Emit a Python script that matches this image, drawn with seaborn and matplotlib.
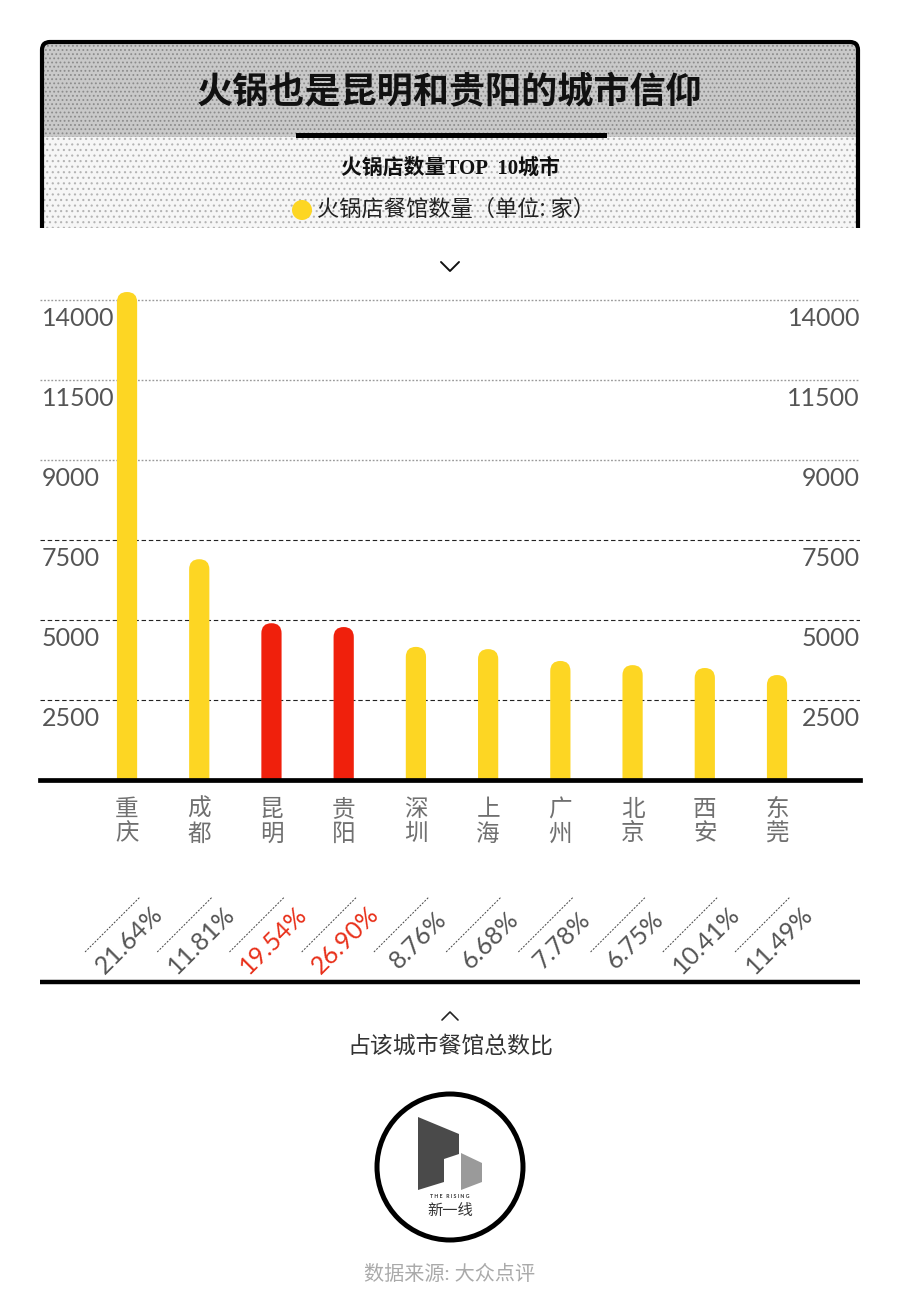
import numpy as np
import pandas as pd
import matplotlib
matplotlib.use('Agg')
import matplotlib.pyplot as plt
import seaborn as sns
from matplotlib.patches import FancyBboxPatch, Rectangle, Circle, Polygon
from matplotlib.transforms import blended_transform_factory, offset_copy

# ---------------- data ----------------
cities = ['重庆', '成都', '昆明', '贵阳', '深圳', '上海', '广州', '北京', '西安', '东莞']
counts = [14250, 6900, 4900, 4780, 4160, 4090, 3720, 3590, 3500, 3280]
shares = ['21.64%', '11.81%', '19.54%', '26.90%', '8.76%', '6.68%', '7.78%', '6.75%', '10.41%', '11.49%']
highlight = ['昆明', '贵阳']
tick_values = [2500, 5000, 7500, 9000, 11500, 14000]

title = '火锅也是昆明和贵阳的城市信仰'
subtitle = '火锅店数量TOP  10城市'
legend_label = '火锅店餐馆数量（单位: 家）'
share_caption = '占该城市餐馆总数比'
logo_en = 'T H E   R I S I N G'
logo_cn = '新一线'
source = '数据来源: 大众点评'

YELLOW = '#FDD623'
RED = '#F0200C'
RED_TEXT = '#E8301A'
GRAY_TEXT = '#555555'

sns.set_theme(style='white')
plt.rcParams['font.family'] = ['Lato', 'Noto Sans CJK SC', 'DejaVu Sans']
plt.rcParams['hatch.linewidth'] = 0.8

W, H = 900, 1295
fig = plt.figure(figsize=(W / 100, H / 100), dpi=100)
fig.patch.set_facecolor('white')

# overlay axes in pixel coordinates (y downwards)
ov = fig.add_axes([0, 0, 1, 1], zorder=0)
ov.set_xlim(0, W)
ov.set_ylim(H, 0)
ov.axis('off')

# main chart axes
ax = fig.add_axes([40 / W, (H - 780) / H, 820 / W, 500 / H], zorder=1)
ax.patch.set_alpha(0)

df = pd.DataFrame({'city': cities, 'count': counts})
palette = {c: (RED if c in highlight else YELLOW) for c in cities}
sns.barplot(data=df, x='city', y='count', hue='city', palette=palette,
            width=0.28, saturation=1, legend=False, ax=ax, zorder=3)

# piecewise axis (gridlines evenly spaced, labels as printed)
scale_vals = [0] + tick_values + [tick_values[-1] + 2500]
scale_pos = np.arange(len(scale_vals), dtype=float)
fwd = lambda y: np.interp(y, scale_vals, scale_pos)
inv = lambda u: np.interp(u, scale_pos, scale_vals)
ax.set_yscale('function', functions=(fwd, inv))
top_units = 6.25
ax.set_ylim(0, inv(top_units))
ax.set_xlim(-1.205, 10.149)

# rounded-top bars
bbox = ax.get_position()
ax_w_px = bbox.width * W
ax_h_px = bbox.height * H
x0, x1 = ax.get_xlim()
x_per_px = (x1 - x0) / ax_w_px
y_per_px = 2500 / (ax_h_px / top_units)
aspect = y_per_px / x_per_px
for p in list(ax.patches):
    x, w, h = p.get_x(), p.get_width(), p.get_height()
    fc = p.get_facecolor()
    p.remove()
    r = w / 2
    ax.add_patch(FancyBboxPatch((x, -3 * r * aspect), w, h + 3 * r * aspect,
                                boxstyle=f'round,pad=0,rounding_size={r}',
                                mutation_aspect=aspect, fc=fc, ec='none', zorder=3))

# gridlines
for v in tick_values:
    if v >= 9000:
        ax.axhline(v, color='#9a9a9a', lw=1.0, ls=(0, (1.3, 1.3)), zorder=1)
    else:
        ax.axhline(v, color='#222222', lw=0.8, ls=(0, (4, 2.5)), zorder=1)

# y labels on both sides, inside the plot
lt = offset_copy(blended_transform_factory(ax.transAxes, ax.transData), fig=fig, y=-18, units='dots')
for v in tick_values:
    ax.text(0.002, v, f'{v}', transform=lt, ha='left', va='center', fontsize=18,
            color=GRAY_TEXT, fontweight='normal')
    ax.text(1.0, v, f'{v}', transform=lt, ha='right', va='center', fontsize=18,
            color=GRAY_TEXT, fontweight='normal')

for s in ['left', 'right', 'top']:
    ax.spines[s].set_visible(False)
ax.spines['bottom'].set_linewidth(3.4)
ax.spines['bottom'].set_color('black')
ax.spines['bottom'].set_zorder(5)
ax.set_yticks([])
ax.yaxis.set_minor_locator(matplotlib.ticker.NullLocator())
ax.set_xticks(range(len(cities)))
ax.set_xticklabels(['\n'.join(c) for c in cities], fontsize=17, color='#707070',
                   linespacing=1.08, family=['Noto Sans CJK SC'])
ax.tick_params(axis='x', length=0, pad=13)
ax.tick_params(axis='y', length=0)
ax.set_xlabel('')
ax.set_ylabel('')

# percentage labels
for i, (s, c) in enumerate(zip(shares, cities)):
    xpx = ax.transData.transform((i, 1000))[0]
    col = RED_TEXT if c in highlight else GRAY_TEXT
    ov.text(xpx + 2, 940, s, rotation=45, ha='center', va='center', rotation_mode='anchor',
            fontsize=18, color=col, fontweight='normal')
    ov.plot([xpx - 42, xpx + 13], [952, 897], color='#444444', lw=0.7, ls=(0, (2, 1.5)))

# ---------------- header ----------------
ov.add_patch(Rectangle((42, 42), 816, 95, fc='#c9c9c9', ec='#8c8c8c', lw=0, hatch='....', zorder=1))
ov.add_patch(Rectangle((42, 137), 816, 91, fc='#f6f6f6', ec='#b4b4b4', lw=0, hatch='...', zorder=1))
frame = FancyBboxPatch((42, 42), 816, 260, boxstyle='round,pad=0,rounding_size=8',
                       fc='none', ec='black', lw=3.0, zorder=3)
ov.add_patch(frame)
frame.set_clip_path(Rectangle((0, 0), W, 228, transform=ov.transData))
ov.text(450, 93, title, fontsize=26, fontweight='bold', ha='center', va='center',
        color='#111111', family=['Noto Sans CJK SC'], zorder=4)
ov.add_patch(Rectangle((296, 133), 311, 5, fc='black', ec='none', zorder=4))
ov.text(450, 168, subtitle, fontsize=15, fontweight='bold', ha='center', va='center',
        color='#111111', family=['Liberation Serif', 'Noto Sans CJK SC'], zorder=4)
ov.add_patch(Circle((302, 210), 10, fc=YELLOW, ec='none', zorder=4))
ov.text(317, 209, legend_label, fontsize=16, ha='left', va='center', color='#222222',
        family=['Noto Sans CJK SC'], zorder=4)

# chevrons
ov.plot([441, 450, 459], [262, 271, 262], color='#111111', lw=1.4)
ov.plot([442, 450, 458], [1020, 1012, 1020], color='#222222', lw=1.2)

# bottom rule and caption
ov.plot([40, 860], [982, 982], color='black', lw=3.2, solid_capstyle='butt')
ov.text(450, 1046, share_caption, fontsize=16.5, ha='center', va='center', color='#333333',
        family=['Noto Sans CJK SC'])

# logo
ov.add_patch(Circle((450, 1167), 73, fc='none', ec='black', lw=3.6))
ov.add_patch(Polygon([(418, 1117), (459, 1134), (459, 1154), (444, 1159), (444, 1182), (418, 1190)],
                     closed=True, fc='#4a4a4a', ec='none'))
ov.add_patch(Polygon([(461, 1153), (482, 1163), (482, 1182), (461, 1190)],
                     closed=True, fc='#9a9a9a', ec='none'))
ov.text(450, 1197, logo_en, fontsize=3.8, fontweight='bold', ha='center', va='center', color='#333333')
ov.text(450, 1210, logo_cn, fontsize=11, ha='center', va='center', color='#333333',
        family=['Noto Sans CJK SC'])

# source
ov.text(450, 1273, source, fontsize=14.5, ha='center', va='center', color='#aaaaaa')

fig.savefig('out.png', dpi=100, facecolor='white')
